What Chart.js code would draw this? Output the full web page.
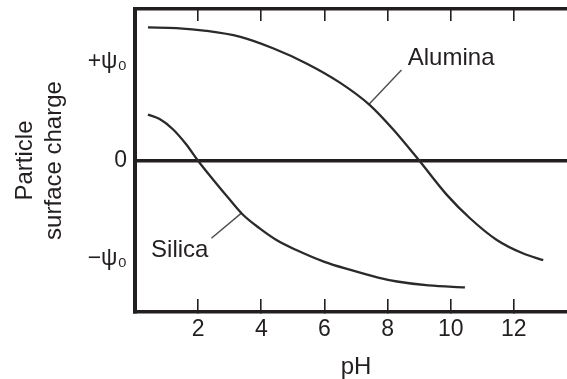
<!DOCTYPE html>
<html>
<head>
<meta charset="utf-8">
<script src="https://cdn.jsdelivr.net/npm/chart.js@4/dist/chart.umd.min.js"></script>
<style>
  html, body { margin: 0; padding: 0; background: #fff; }
  #frame { width: 567px; height: 379px; overflow: hidden; position: relative; }
  /* the plot frame runs past the right edge of the picture */
  #wrap { width: 577px; height: 379px; position: absolute; left: 0; top: 0; }
</style>
</head>
<body>
<div id="frame"><div id="wrap"><canvas id="surface-charge"></canvas></div></div>
<script>
// values (charge in units of psi0)
const aluminaPH = [0.41, 1.31, 2.26, 3.31, 4.37, 5.43, 6.49, 7.43, 8.18, 8.97, 9.87, 10.61, 11.46, 12.3, 12.93];
const aluminaCharge = [1.353, 1.346, 1.318, 1.259, 1.141, 0.987, 0.792, 0.566, 0.315, 0.012, -0.347, -0.587, -0.808, -0.946, -1.013];
const silicaPH = [0.41, 0.78, 1.2, 1.62, 1.99, 2.47, 3.0, 3.42, 3.95, 4.48, 5.11, 6.0, 6.8, 7.7, 8.3, 9.3, 10.45];
const silicaCharge = [0.467, 0.421, 0.318, 0.165, 0.0, -0.193, -0.397, -0.551, -0.69, -0.808, -0.91, -1.03, -1.11, -1.19, -1.23, -1.27, -1.29];

const xTickValues = [2, 4, 6, 8, 10, 12];
const yTickValues = [1, 0, -1];
const yTickLabels = ['+ψ₀', '0', '−ψ₀'];

// leader lines from curve to name
const aluminaLeaderPH = [7.42, 8.44];
const aluminaLeaderCharge = [0.575, 0.92];
const silicaLeaderPH = [3.37, 2.42];
const silicaLeaderCharge = [-0.535, -0.79];

const curveNames = ['Alumina', 'Silica'];
const curveNamePH = [8.64, 0.51];
const curveNameCharge = [0.974, -0.98];

const ink = '#231f20';
const fontFamily = '"Liberation Sans", Arial, Helvetica, sans-serif';

Chart.defaults.font.family = fontFamily;
Chart.defaults.color = ink;

const toPoints = (xs, ys) => xs.map((x, i) => ({ x: x, y: ys[i] }));

const curveNamePlugin = {
    id: 'curveNames',
    afterDatasetsDraw(chart) {
        const { ctx, scales } = chart;
        ctx.save();
        ctx.font = '24px ' + fontFamily;
        ctx.fillStyle = ink;
        ctx.textAlign = 'left';
        ctx.textBaseline = 'alphabetic';
        curveNames.forEach((name, i) => {
            ctx.fillText(name, scales.x.getPixelForValue(curveNamePH[i]), scales.y.getPixelForValue(curveNameCharge[i]));
        });
        ctx.restore();
    }
};

const curve = (label, data) => ({
    label: label,
    data: data,
    borderColor: '#2a2a2a',
    borderWidth: 2.3,
    pointRadius: 0,
    cubicInterpolationMode: 'monotone',
    fill: false
});

const leader = (label, data) => ({
    label: label,
    data: data,
    borderColor: '#4d4d4d',
    borderWidth: 1.4,
    pointRadius: 0,
    tension: 0,
    fill: false
});

document.addEventListener('DOMContentLoaded', () => {
    const ctx = document.getElementById('surface-charge').getContext('2d');
    window.surfaceChargeChart = new Chart(ctx, {
        type: 'line',
        data: {
            datasets: [
                curve('Alumina', toPoints(aluminaPH, aluminaCharge)),
                curve('Silica', toPoints(silicaPH, silicaCharge)),
                leader('Alumina leader', toPoints(aluminaLeaderPH, aluminaLeaderCharge)),
                leader('Silica leader', toPoints(silicaLeaderPH, silicaLeaderCharge))
            ]
        },
        options: {
            responsive: true,
            maintainAspectRatio: false,
            animation: false,
            layout: { padding: 0 },
            scales: {
                x: {
                    type: 'linear',
                    position: 'bottom',
                    min: 0,
                    max: 14,
                    afterBuildTicks: (s) => { s.ticks = xTickValues.map(v => ({ value: v })); },
                    border: { color: ink, width: 3.5 },
                    grid: { drawOnChartArea: false, tickLength: -13, color: ink, lineWidth: 1.6 },
                    ticks: { padding: 17, font: { size: 23 }, color: ink, maxRotation: 0 },
                    title: {
                        display: true,
                        text: 'pH',
                        font: { size: 24, lineHeight: 0.95 },
                        padding: { top: 0, bottom: 0 }
                    },
                    afterFit: (s) => { s.height = 67; }
                },
                x2: {
                    type: 'linear',
                    position: 'top',
                    min: 0,
                    max: 14,
                    afterBuildTicks: (s) => { s.ticks = xTickValues.map(v => ({ value: v })); },
                    border: { color: ink, width: 3.5 },
                    grid: { drawOnChartArea: false, tickLength: -12, color: ink, lineWidth: 1.6 },
                    ticks: { display: false },
                    afterFit: (s) => { s.height = 9; }
                },
                y: {
                    min: -1.54,
                    max: 1.54,
                    afterBuildTicks: (s) => { s.ticks = yTickValues.map(v => ({ value: v })); },
                    border: { color: ink, width: 4 },
                    grid: {
                        drawTicks: false,
                        color: (c) => (c.tick && c.tick.value === 0 ? ink : 'rgba(0,0,0,0)'),
                        lineWidth: 3.5
                    },
                    ticks: {
                        padding: 8,
                        font: { size: 23, lineHeight: 0.05 },
                        color: ink,
                        callback: (value, index) => yTickLabels[index]
                    },
                    title: {
                        display: true,
                        text: ['Particle', 'surface charge'],
                        font: { size: 24, lineHeight: 1.2 },
                        padding: { top: 11, bottom: 0 }
                    },
                    afterFit: (s) => { s.width = 135; }
                }
            },
            plugins: {
                legend: { display: false },
                tooltip: { enabled: false }
            }
        },
        plugins: [curveNamePlugin]
    });
});
</script>
</body>
</html>
